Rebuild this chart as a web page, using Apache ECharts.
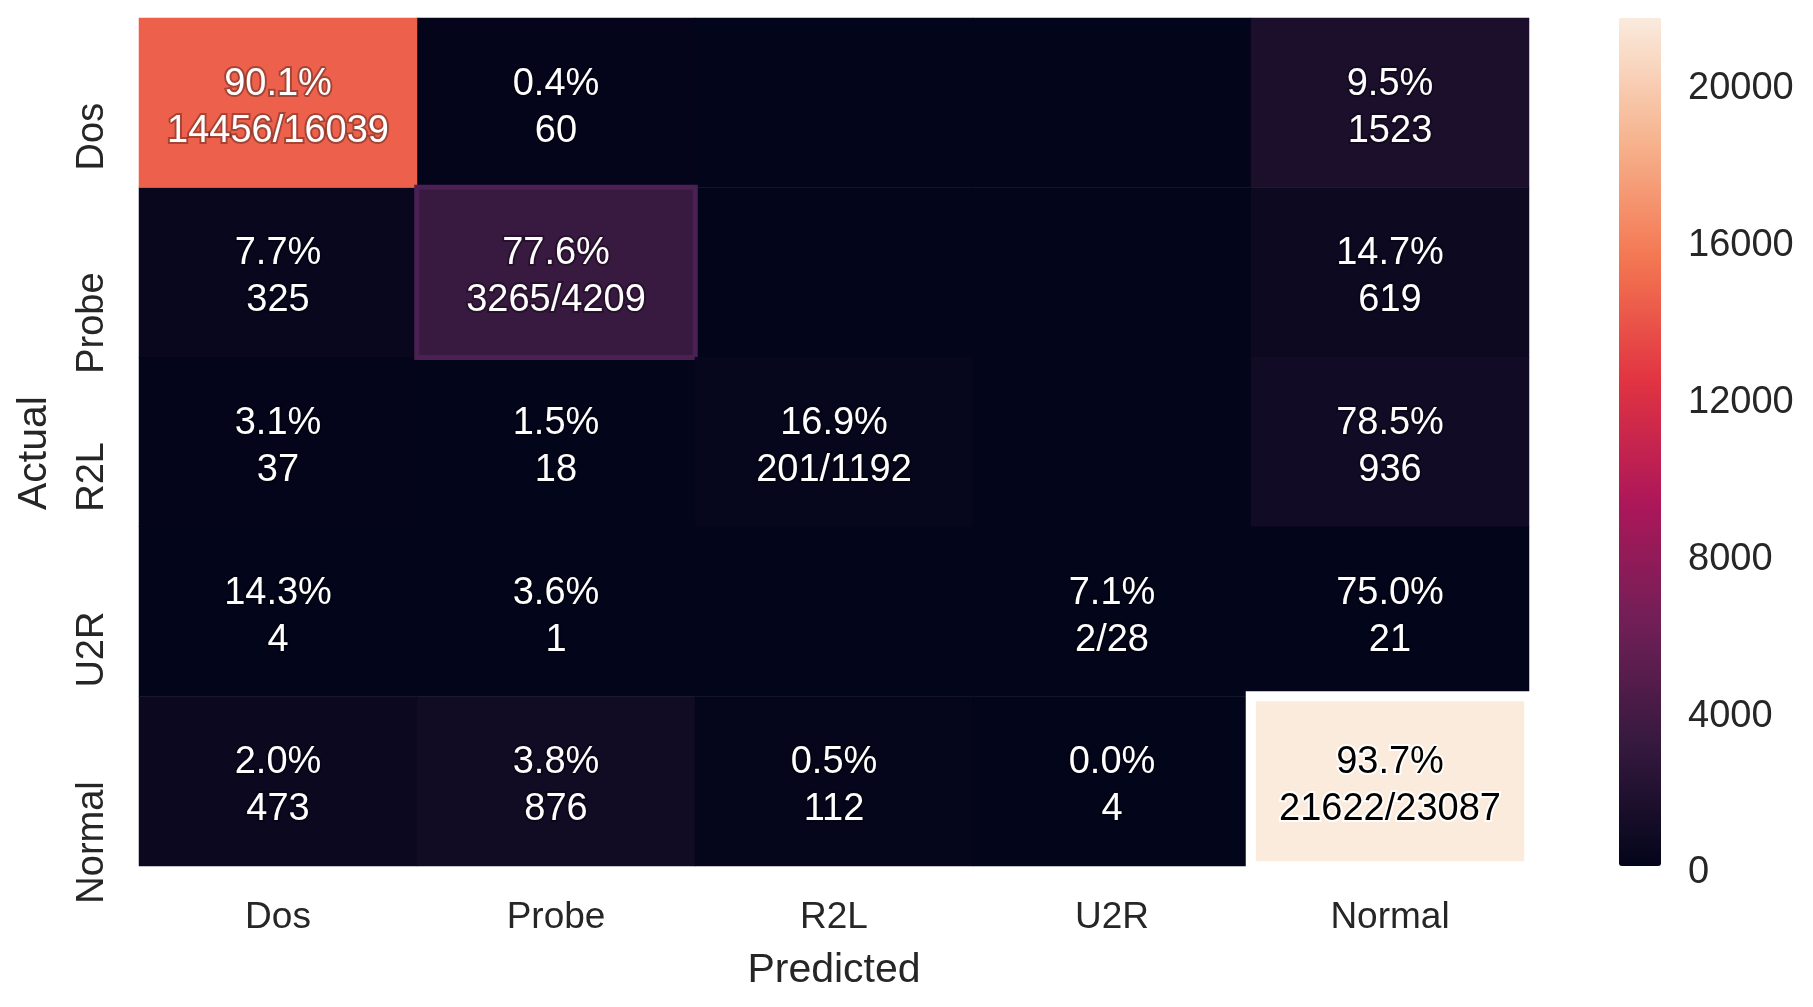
<!DOCTYPE html>
<html>
<head>
<meta charset="utf-8">
<script src="https://cdn.jsdelivr.net/npm/echarts@6/dist/echarts.min.js"></script>
<style>html,body{margin:0;padding:0;background:#fff}#c{width:1813px;height:1007px}</style>
</head>
<body>
<div id="c"></div>
<script>
const categories = ['Dos', 'Probe', 'R2L', 'U2R', 'Normal'];
const dosRow    = [14456, 60, 0, 0, 1523];
const probeRow  = [325, 3265, 0, 0, 619];
const r2lRow    = [37, 18, 201, 0, 936];
const u2rRow    = [4, 1, 0, 2, 21];
const normalRow = [473, 876, 112, 4, 21622];
const colorbarTicks = [0, 4000, 8000, 12000, 16000, 20000];
const xAxisName = 'Predicted';
const yAxisName = 'Actual';

const rows = [dosRow, probeRow, r2lRow, u2rRow, normalRow];
const rowSums = rows.map(r => r.reduce((a, b) => a + b, 0));
const vmax = Math.max(...rows.flat());

const FONT = "'Liberation Sans', Arial, sans-serif";
const rocket = ['#03051a', '#35193e', '#701f57', '#ad1759', '#e13342', '#f37651', '#f6b48f', '#faebdd'];

const borderFor = {
  1: { borderColor: '#4a2152', borderWidth: 5 },
  4: { borderColor: '#ffffff', borderWidth: 10 }
};

const offDiag = [], diag = [];
rows.forEach((r, i) => {
  r.forEach((v, j) => {
    const light = v / vmax > 0.8;
    const item = {
      value: [j, i, v],
      label: {
        color: light ? '#000000' : '#ffffff',
        textBorderColor: light ? 'rgba(255,255,255,0.9)' : 'rgba(0,0,0,0.3)',
        textBorderWidth: 4
      }
    };
    if (i === j) {
      if (borderFor[i]) item.itemStyle = borderFor[i];
      diag.push(item);
    } else offDiag.push(item);
  });
});

const chart = echarts.init(document.getElementById('c'), null, { renderer: 'canvas' });
chart.setOption({
  backgroundColor: '#ffffff',
  animation: false,
  grid: [
    { left: 139, top: 18, width: 1390, height: 848 },
    { left: 1619, top: 25, width: 42, height: 848 }
  ],
  xAxis: [
    {
      type: 'category', gridIndex: 0, data: categories, position: 'bottom',
      axisLine: { show: false }, axisTick: { show: false }, splitLine: { show: false },
      axisLabel: { fontFamily: FONT, fontSize: 37, color: '#262626', margin: 33 },
      name: xAxisName, nameLocation: 'middle', nameGap: 84,
      nameTextStyle: { fontFamily: FONT, fontSize: 41, color: '#262626' }
    },
    { type: 'value', gridIndex: 1, show: false }
  ],
  yAxis: [
    {
      type: 'category', gridIndex: 0, data: categories, inverse: true,
      axisLine: { show: false }, axisTick: { show: false }, splitLine: { show: false },
      axisLabel: { fontFamily: FONT, fontSize: 38, color: '#262626', rotate: 90, margin: 27, align: 'right' },
      name: '{a|' + yAxisName + '}', nameLocation: 'middle', nameGap: 84,
      nameTextStyle: {
        fontFamily: FONT, fontSize: 41, color: '#262626',
        rich: { a: { fontFamily: FONT, fontSize: 41, color: '#262626', padding: [0, 22, 0, 0] } }
      }
    },
    {
      type: 'value', gridIndex: 1, position: 'right', min: 0, max: vmax, interval: 4000,
      axisLine: { show: false }, axisTick: { show: false }, splitLine: { show: false },
      axisLabel: {
        fontFamily: FONT, fontSize: 38, color: '#262626', margin: 27,
        showMaxLabel: false,
        formatter: v => colorbarTicks.includes(v) ? String(v) : ''
      }
    }
  ],
  visualMap: {
    type: 'continuous', min: 0, max: vmax, calculable: false, seriesIndex: 0,
    orient: 'vertical', left: 1619, top: 18, itemWidth: 42, itemHeight: 848,
    padding: 0, text: null, hoverLink: false,
    inRange: { color: rocket }
  },
  series: [{
    type: 'heatmap', xAxisIndex: 0, yAxisIndex: 0,
    data: offDiag.concat(diag),
    label: {
      show: true, fontFamily: FONT, fontSize: 38, lineHeight: 47, offset: [0, 5],
      formatter: p => {
        const [j, i, v] = p.value;
        if (v === 0) return '';
        const pct = (v / rowSums[i] * 100).toFixed(1) + '%';
        return i === j ? pct + '\n' + v + '/' + rowSums[i] : pct + '\n' + v;
      }
    },
    emphasis: { disabled: true }
  }]
});
</script>
</body>
</html>
